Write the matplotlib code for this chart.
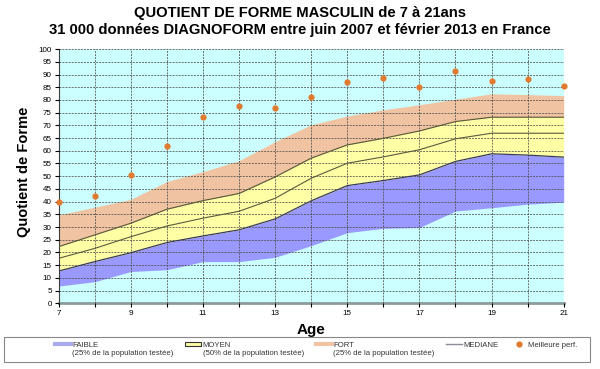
import numpy as np
import matplotlib
matplotlib.use("Agg")
import matplotlib.pyplot as plt
from matplotlib.lines import Line2D
from matplotlib.patches import Patch, Rectangle
from matplotlib.legend_handler import HandlerLine2D, HandlerPatch

plt.rcParams['font.family'] = 'Liberation Sans'

# Données
ages = [7, 8, 9, 10, 11, 12, 13, 14, 15, 16, 17, 18, 19, 20, 21]
faible_bas = [6.8, 8.5, 12.5, 13.2, 16.4, 16.4, 18.1, 22.7, 27.8, 29.5, 29.8, 36.3, 37.6, 39.0, 39.8]
faible_haut = [12.7, 16.4, 19.9, 23.9, 26.5, 28.9, 33.2, 40.3, 46.3, 48.3, 50.5, 55.8, 58.8, 58.3, 57.5]
mediane = [17.7, 21.6, 26.2, 30.4, 33.5, 36.2, 41.3, 49.2, 55.1, 57.6, 60.4, 64.7, 66.9, 66.9, 66.9]
moyen_haut = [22.3, 26.9, 31.5, 37.0, 40.4, 43.2, 49.7, 57.1, 62.3, 64.9, 67.8, 71.5, 73.2, 73.2, 73.2]
fort_haut = [34.8, 37.8, 40.9, 47.9, 51.8, 56.1, 63.6, 70.2, 73.7, 76.1, 78.1, 80.3, 82.4, 82.1, 81.7]
meilleure = [40.0, 42.4, 50.5, 61.7, 73.2, 77.7, 76.9, 81.1, 87.0, 88.7, 85.0, 91.2, 87.4, 88.2, 85.6]

c_fond = '#CCFFFF'
c_faible = '#9999FF'
c_moyen = '#FFFFA6'
c_fort = '#F0C4A2'
c_point = '#E07A2E'


# poignées de légende remontées au niveau de la première ligne du libellé
class LigneHaute(HandlerLine2D):
    def create_artists(self, legend, orig_handle, xdescent, ydescent, width, height, fontsize, trans):
        return super().create_artists(legend, orig_handle, xdescent, ydescent - 1.3 * fontsize,
                                      width, height, fontsize, trans)


class PatchHaut(HandlerPatch):
    def create_artists(self, legend, orig_handle, xdescent, ydescent, width, height, fontsize, trans):
        return super().create_artists(legend, orig_handle, xdescent, ydescent - 0.65 * fontsize,
                                      width, height, fontsize, trans)


fig = plt.figure(figsize=(6, 3.69), dpi=100)
ax = fig.add_axes([0.0978, 0.178, 0.8417, 0.689])
ax.set_facecolor(c_fond)

ax.fill_between(ages, faible_bas, faible_haut, color=c_faible, lw=0, zorder=1)
ax.fill_between(ages, faible_haut, moyen_haut, color=c_moyen, lw=0, zorder=1)
ax.fill_between(ages, moyen_haut, fort_haut, color=c_fort, lw=0, zorder=1)
ax.plot(ages, faible_haut, color='#3a3a5a', lw=0.9, zorder=3)
ax.plot(ages, mediane, color='#5a5a40', lw=0.8, zorder=3)
ax.plot(ages, moyen_haut, color='#5a5a30', lw=0.8, zorder=3)
ax.plot(ages, meilleure, 'o', color=c_point, ms=4.5, mec='none', zorder=4, clip_on=False)

ax.set_xlim(7, 21)
ax.set_ylim(0, 100)
ax.set_xticks(ages)
ax.set_xticklabels([str(a) if a % 2 == 1 else '' for a in ages])
ax.set_yticks(np.arange(0, 101, 5))
ax.tick_params(labelsize=5.8, length=3, width=0.8, pad=2)

ax.grid(True, color='#4a4a4a', lw=0.55, ls=(0, (2.5, 1.5)), zorder=2)
ax.set_axisbelow(False)
for s in ['top', 'right']:
    ax.spines[s].set_visible(False)
ax.spines['left'].set_color('#333333')
ax.spines['left'].set_linewidth(0.8)
ax.spines['bottom'].set_color('#8a9a9a')
ax.spines['bottom'].set_linewidth(2)

ax.set_ylabel('Quotient de Forme', fontsize=10.5, fontweight='bold')
ax.yaxis.set_label_coords(-0.055, 0.516)
ax.set_xlabel('Age', fontsize=11, fontweight='bold', labelpad=4)

fig.text(0.5, 1 - 12.5 / 369, 'QUOTIENT DE FORME MASCULIN de 7 à 21ans',
         ha='center', va='center', fontsize=10.6, fontweight='bold')
fig.text(0.5, 1 - 30 / 369, '31 000 données DIAGNOFORM entre juin 2007 et février 2013 en France',
         ha='center', va='center', fontsize=10.6, fontweight='bold')

# légende : cadre dessiné à part, contenu centré dedans
fig.patches.append(Rectangle((4 / 600, 7 / 369), 586 / 600, 25 / 369, transform=fig.transFigure,
                             facecolor='white', edgecolor='#888888', lw=0.8, zorder=0))

handles = [
    Line2D([], [], color='#AAAAF0', lw=3),
    Patch(facecolor=c_moyen, edgecolor='#333333', lw=0.8),
    Line2D([], [], color=c_fort, lw=3),
    Line2D([], [], color='#8a8a9a', lw=1),
    Line2D([], [], marker='o', color=c_point, ls='none', ms=3.5),
]
labels = [
    'FAIBLE\n(25% de la population testée)',
    'MOYEN\n(50% de la population testée)',
    'FORT\n(25% de la population testée)',
    'MEDIANE\n ',
    'Meilleure perf.\n ',
]
hmap = {
    handles[0]: LigneHaute(),
    handles[1]: PatchHaut(),
    handles[2]: LigneHaute(),
    handles[3]: LigneHaute(),
    handles[4]: LigneHaute(),
}
leg = fig.legend(handles, labels, loc='center', bbox_to_anchor=(316 / 600, 1 - 349.5 / 369),
                 ncol=5, fontsize=5.6, frameon=False, handler_map=hmap,
                 handlelength=2.05, handleheight=0.5, handletextpad=0.15, borderpad=0.2,
                 columnspacing=1.55)
for t in leg.get_texts():
    t.set_color('#333333')

fig.savefig('out.png', dpi=100)
